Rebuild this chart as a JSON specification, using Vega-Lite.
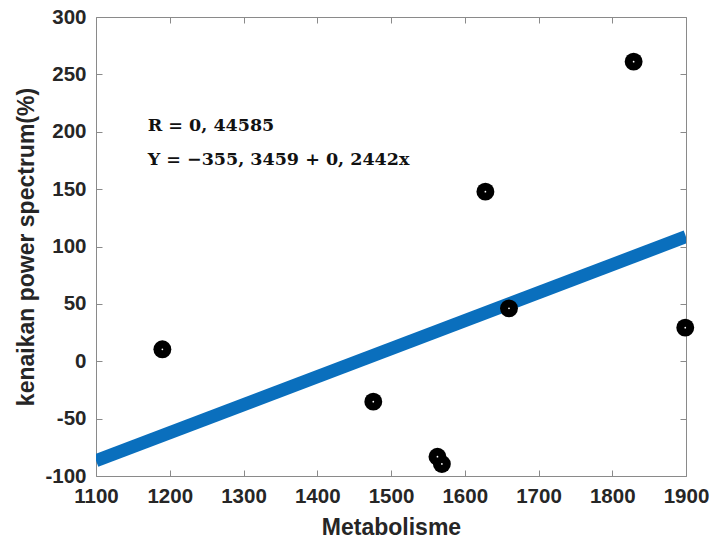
{
  "$schema": "https://vega.github.io/schema/vega-lite/v6.json",
  "autosize": "none",
  "width": 590,
  "height": 459,
  "padding": {"left": 96, "top": 17, "right": 24, "bottom": 66},
  "background": "white",
  "config": {
    "view": {"stroke": "#8a8a8a", "strokeWidth": 1},
    "axis": {
      "grid": false,
      "domain": false,
      "tickColor": "#8a8a8a",
      "tickSize": -6,
      "labelOverlap": false,
      "labelFlush": false,
      "labelFont": "Liberation Sans",
      "labelFontWeight": "bold",
      "labelFontSize": 20.5,
      "labelColor": "#262626",
      "titleFont": "Liberation Sans",
      "titleFontWeight": "bold",
      "titleFontSize": 23,
      "titleColor": "#262626"
    }
  },
  "datasets": {
    "pts": [
      {"metabolisme": 1190, "kenaikan": 10.4},
      {"metabolisme": 1476, "kenaikan": -35.2},
      {"metabolisme": 1563, "kenaikan": -83.2},
      {"metabolisme": 1569, "kenaikan": -89.5},
      {"metabolisme": 1628, "kenaikan": 147.8},
      {"metabolisme": 1660, "kenaikan": 46.1},
      {"metabolisme": 1829, "kenaikan": 261.1},
      {"metabolisme": 1899, "kenaikan": 29.3}
    ],
    "fit": [
      {"metabolisme": 1100, "kenaikan": -86.7},
      {"metabolisme": 1900, "kenaikan": 108.6}
    ],
    "notes": [
      {"metabolisme": 1170, "kenaikan": 205, "label": "R = 0, 44585"},
      {"metabolisme": 1170, "kenaikan": 175.5, "label": "Y = −355, 3459 + 0, 2442x"}
    ]
  },
  "layer": [
    {
      "data": {"name": "fit"},
      "mark": {"type": "line", "color": "#0a6fbd", "strokeWidth": 13, "strokeCap": "butt", "clip": true},
      "encoding": {
        "x": {"field": "metabolisme", "type": "quantitative", "scale": {"domain": [1100, 1900], "nice": false, "zero": false},
          "axis": {"values": [1100,1200,1300,1400,1500,1600,1700,1800,1900], "labelExpr": "'' + datum.value", "title": "Metabolisme", "labelPadding": 16, "titlePadding": 10}},
        "y": {"field": "kenaikan", "type": "quantitative", "scale": {"domain": [-100, 300], "nice": false, "zero": false},
          "axis": {"values": [-100,-50,0,50,100,150,200,250,300], "labelExpr": "'' + datum.value", "title": "kenaikan power spectrum(%)", "labelPadding": 16, "titlePadding": 6}}
      }
    },
    {
      "data": {"name": "pts"},
      "mark": {"type": "point", "filled": true, "shape": "circle", "color": "black", "opacity": 1, "size": 320},
      "encoding": {
        "x": {"field": "metabolisme", "type": "quantitative", "scale": {"domain": [1100, 1900], "nice": false, "zero": false},
          "axis": {"orient": "top", "values": [1100,1200,1300,1400,1500,1600,1700,1800,1900], "labels": false, "title": null}},
        "y": {"field": "kenaikan", "type": "quantitative", "scale": {"domain": [-100, 300], "nice": false, "zero": false},
          "axis": {"orient": "right", "values": [-100,-50,0,50,100,150,200,250,300], "labels": false, "title": null}}
      }
    },
    {
      "data": {"name": "pts"},
      "mark": {"type": "point", "filled": true, "shape": "circle", "color": "white", "opacity": 1, "size": 3},
      "encoding": {
        "x": {"field": "metabolisme", "type": "quantitative", "scale": {"domain": [1100, 1900], "nice": false, "zero": false}, "axis": null},
        "y": {"field": "kenaikan", "type": "quantitative", "scale": {"domain": [-100, 300], "nice": false, "zero": false}, "axis": null}
      }
    },
    {
      "data": {"name": "notes"},
      "mark": {"type": "text", "align": "left", "baseline": "middle", "font": "DejaVu Serif", "fontWeight": "bold", "fontSize": 17.5, "color": "#111"},
      "encoding": {
        "x": {"field": "metabolisme", "type": "quantitative", "scale": {"domain": [1100, 1900], "nice": false, "zero": false}, "axis": null},
        "y": {"field": "kenaikan", "type": "quantitative", "scale": {"domain": [-100, 300], "nice": false, "zero": false}, "axis": null},
        "text": {"field": "label"}
      }
    }
  ],
  "resolve": {"axis": {"x": "independent", "y": "independent"}}
}
